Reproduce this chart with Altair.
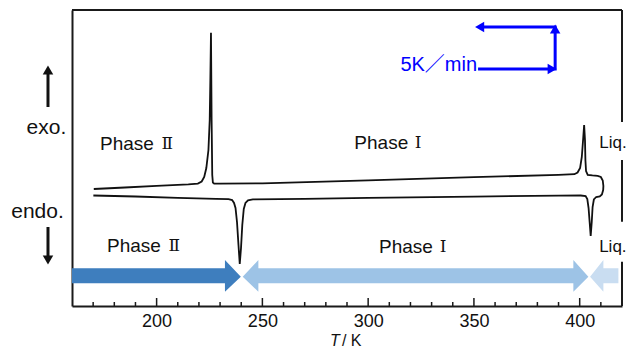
import altair as alt
import pandas as pd

# ---- DSC trace: heating run followed by cooling run (T in K, heat flow in arb. units)
curve_T = [170.1, 190, 210, 228, 234, 235.7, 236.6, 237.3, 238.0, 238.7, 239.3, 239.9,
           240.5, 241.2, 242.0, 243.2, 245.5, 270, 300, 350, 390, 400.5, 402.8, 403.6,
           404.2, 404.7, 405.2, 405.7, 406.1, 406.7, 407.8, 409.5, 410.5, 411.1, 411.2,
           410.9, 410.0, 408.5,
           406.0, 403.8, 403.0, 402.7, 402.5, 402.1, 401.6, 401.0, 400.2, 399.0, 397.5,
           390, 350, 300, 250, 230, 227.2, 226.6, 226.3, 226.0, 225.7, 225.4, 225.1,
           224.5, 223.5, 222.5, 221.3, 219.5, 215, 200, 185, 170.3]
curve_Y = [11.05, 10.95, 10.82, 10.72, 10.68, 10.60, 10.30, 9.80, 8.40, 6.10, 4.20, 5.80,
           8.10, 9.70, 10.30, 10.57, 10.66, 10.72, 10.82, 10.94, 11.04, 11.05, 11.00, 10.70,
           9.80, 8.40, 7.00, 8.40, 9.90, 10.65, 10.90, 10.95, 11.15, 11.60, 12.00,
           12.55, 12.90, 13.02,
           13.06, 13.12, 13.50, 14.60, 16.60, 18.10, 16.60, 14.90, 13.80, 13.35, 13.18,
           13.12, 12.88, 12.57, 12.27, 12.24, 12.24, 12.35, 13.10, 18.60, 27.33, 22.60, 18.60,
           15.60, 13.80, 12.90, 12.45, 12.24, 12.17, 12.02, 11.85, 11.70]

# ---- phase ranges shown as arrows along the bottom (K)
phase2_arrow_T = [160, 232.3, 232.31, 239.8]
phase1_arrow_T = [240.7, 248.1, 248.11, 397.0, 397.01, 404.1]
liq_arrow_T = [404.9, 411.2, 411.21, 418.3]
arrow_colors = ["#3E7EBE", "#9DC3E6", "#C9DDF1"]

# ---- axis ticks
tick_major = [200, 250, 300, 350, 400]
tick_minor = [170, 180, 190, 210, 220, 230, 240, 260, 270, 280, 290, 310, 320, 330,
              340, 360, 370, 380, 390, 410]

X_DOMAIN = [160, 420]
Y_DOMAIN = [0, 29.6]

FONT = "Liberation Sans, Noto Sans CJK JP"
NUMFONT = "DejaVu Serif, Noto Sans CJK JP"

xs = alt.Scale(domain=X_DOMAIN, nice=False, zero=False)
ys = alt.Scale(domain=Y_DOMAIN, nice=False, zero=False)
xaxis = alt.Axis(values=tick_major, ticks=False, grid=False, title=None, labelFontSize=18,
                 labelFont=FONT, labelColor="#111111", labelPadding=6,
                 domainColor="#1a1a1a", domainWidth=2, labelFlush=False)
yaxis = alt.Axis(labels=False, ticks=False, grid=False, title=None,
                 domainColor="#1a1a1a", domainWidth=2)
X = alt.X("T:Q", scale=xs, axis=xaxis)
Y = alt.Y("Y:Q", scale=ys, axis=yaxis, stack=None)

# ---- bottom arrows (area polygons)
shaft = (2.27, 3.77)
head = (1.43, 4.60)
mid = 2.93
def arrow_layer(Ts, kinds, color):
    lo, hi = [], []
    for k in kinds:
        a, b = {"tip": (mid, mid), "head": head, "shaft": shaft}[k]
        lo.append(a)
        hi.append(b)
    df = pd.DataFrame({"T": Ts, "Y": lo, "Y2": hi})
    return alt.Chart(df).mark_area(color=color, opacity=1, interpolate="linear").encode(
        x=X, y=Y, y2="Y2:Q")

arrows = [
    arrow_layer(phase2_arrow_T, ["shaft", "shaft", "head", "tip"], arrow_colors[0]),
    arrow_layer(phase1_arrow_T, ["tip", "head", "shaft", "shaft", "head", "tip"], arrow_colors[1]),
    arrow_layer(liq_arrow_T, ["tip", "head", "shaft", "shaft"], arrow_colors[2]),
]

# ---- DSC curve
curve_df = pd.DataFrame({"T": curve_T, "Y": curve_Y, "ord": list(range(len(curve_T)))})
curve = alt.Chart(curve_df).mark_line(color="#111111", strokeWidth=1.8).encode(
    x=X, y=Y, order="ord:Q")

# ---- inward ticks
tk = pd.DataFrame({"T": tick_major + tick_minor,
                   "Y": [0.0] * (len(tick_major) + len(tick_minor)),
                   "Y2": [0.8] * len(tick_major) + [0.4] * len(tick_minor)})
ticks = alt.Chart(tk).mark_rule(color="#1a1a1a", strokeWidth=1.5).encode(x=X, y=Y, y2="Y2:Q")

# ---- frame (top and broken right edge)
frame_df = pd.DataFrame({"T": [160, 420, 420, 420], "T2": [420, 420, 420, 420],
                         "Y": [29.6, 29.6, 14.6, 4.43], "Y2": [29.6, 18.4, 8.43, 0]})
frame = alt.Chart(frame_df).mark_rule(color="#1a1a1a", strokeWidth=2).encode(
    x=X, x2="T2:Q", y=Y, y2="Y2:Q")

# ---- labels
def text_layer(df, font=FONT, baseline="middle", **kw):
    return alt.Chart(df).mark_text(font=font, baseline=baseline, **kw).encode(
        x=X, y=Y, text="label:N")

phase_words = pd.DataFrame({"T": [173.24, 293.48, 176.55, 305.15],
                            "Y": [16.25, 16.3, 6.0, 5.93],
                            "label": ["Phase", "Phase", "Phase", "Phase"]})
phase_nums = pd.DataFrame({"T": [205.0, 323.59, 208.3, 335.41],
                           "Y": [16.25, 16.3, 6.0, 5.93],
                           "label": ["Ⅱ", "Ⅰ", "Ⅱ", "Ⅰ"]})
liq_labels = pd.DataFrame({"T": [409.3, 409.2], "Y": [16.3, 5.93], "label": ["Liq.", "Liq."]})
side_labels = pd.DataFrame({"T": [147.9, 143.7], "Y": [17.8, 9.43], "label": ["exo.", "endo."]})
rate_label = pd.DataFrame({"T": [351.5], "Y": [24.1], "label": ["5K／min"]})
title_T = pd.DataFrame({"T": [284.3], "Y": [-4.0], "label": ["T"]})
title_K = pd.DataFrame({"T": [287.6], "Y": [-4.0], "label": ["/ K"]})

labels = [
    text_layer(phase_words, fontSize=19, color="#111111", align="left"),
    text_layer(phase_nums, font=NUMFONT, fontSize=17, color="#111111", align="center"),
    text_layer(liq_labels, fontSize=17, color="#111111", align="left"),
    text_layer(side_labels, fontSize=21, color="#111111", align="center"),
    text_layer(rate_label, fontSize=20, color="#0000FF", align="right"),
    text_layer(title_T, baseline="alphabetic", fontSize=16, color="#111111",
               align="center", fontStyle="italic"),
    text_layer(title_K, baseline="alphabetic", fontSize=16, color="#111111", align="left"),
]

# ---- exo / endo arrows
bk_shaft = pd.DataFrame({"T": [148.65, 148.65], "Y": [19.9, 7.9], "Y2": [23.4, 4.9]})
bk_lines = alt.Chart(bk_shaft).mark_rule(color="#111111", strokeWidth=3).encode(x=X, y=Y, y2="Y2:Q")
bk_up = alt.Chart(pd.DataFrame({"T": [148.65], "Y": [23.6]})).mark_point(
    shape="triangle-up", filled=True, size=110, color="#111111", opacity=1).encode(x=X, y=Y)
bk_down = alt.Chart(pd.DataFrame({"T": [148.65], "Y": [4.6]})).mark_point(
    shape="triangle-down", filled=True, size=110, color="#111111", opacity=1).encode(x=X, y=Y)

# ---- heating / cooling rate arrow
rate_path = pd.DataFrame({"T": [351.96, 388.4, 388.4, 353.5], "Y": [23.7, 23.7, 27.9, 27.9],
                          "ord": [0, 1, 2, 3]})
rate_line = alt.Chart(rate_path).mark_line(color="#0000FF", strokeWidth=3, strokeJoin="miter").encode(
    x=X, y=Y, order="ord:Q")
rate_r = alt.Chart(pd.DataFrame({"T": [387.0], "Y": [23.7]})).mark_point(
    shape="triangle-right", filled=True, size=110, color="#0000FF", opacity=1).encode(x=X, y=Y)
rate_u = alt.Chart(pd.DataFrame({"T": [388.4], "Y": [27.7]})).mark_point(
    shape="triangle-up", filled=True, size=110, color="#0000FF", opacity=1).encode(x=X, y=Y)
rate_l = alt.Chart(pd.DataFrame({"T": [352.7], "Y": [27.9]})).mark_point(
    shape="triangle-left", filled=True, size=110, color="#0000FF", opacity=1).encode(x=X, y=Y)

chart = alt.layer(
    *arrows, curve, ticks, frame, *labels, bk_lines, bk_up, bk_down,
    rate_line, rate_r, rate_u, rate_l
).properties(
    width=550, height=296,
    autosize=alt.AutoSizeParams(type="none"),
    padding={"left": 64, "top": 2, "right": 5, "bottom": 44},
    background="white",
).configure_view(stroke=None)

chart.save("out.html", embed_options={"renderer": "svg", "actions": False})
